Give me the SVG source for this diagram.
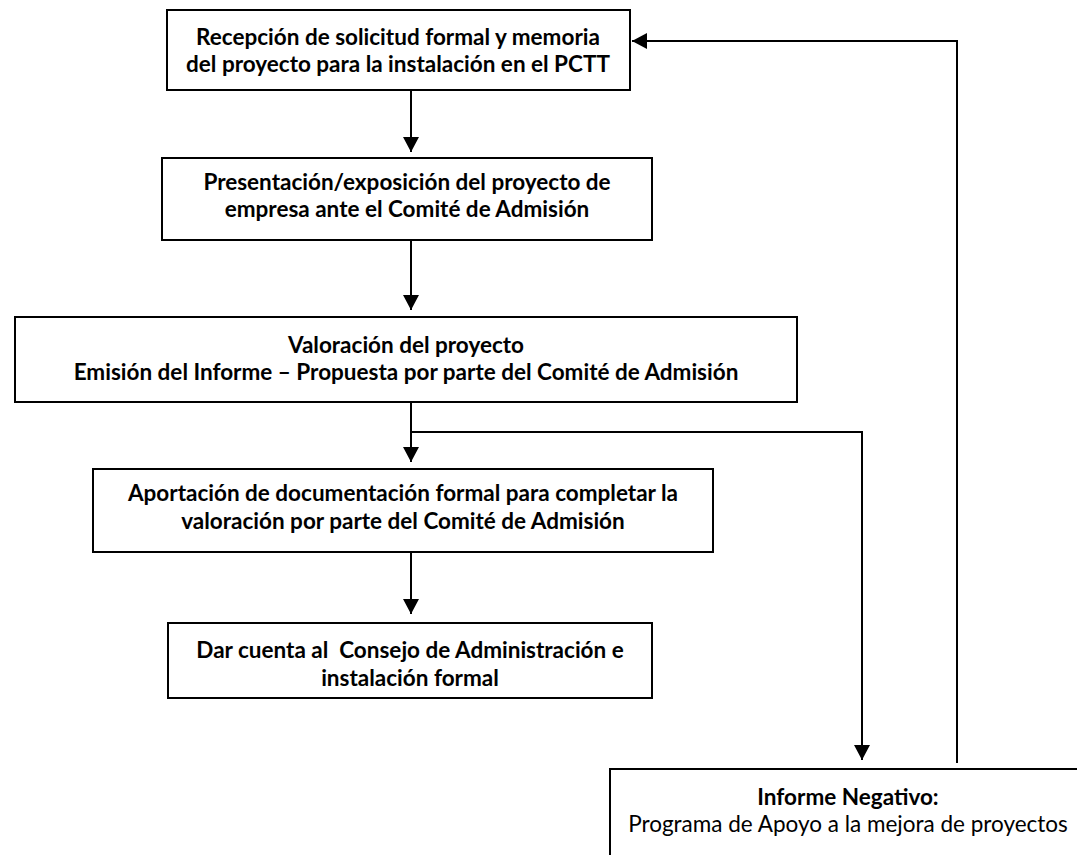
<svg xmlns="http://www.w3.org/2000/svg" width="1077" height="855" viewBox="0 0 1077 855">
<defs>
<style>
.box{fill:#fff;stroke:#000;stroke-width:2}
.t{font-family:Lato,"Liberation Sans",sans-serif;font-size:22.5px;fill:#000;text-anchor:middle;white-space:pre}
.b{font-weight:bold}
.c{fill:none;stroke:#000;stroke-width:2}
</style>
<marker id="ah" markerUnits="userSpaceOnUse" markerWidth="16" markerHeight="16" viewBox="0 0 16 16" refX="15" refY="8" orient="auto">
<path d="M0,0 L15,8 L0,16 Z" fill="#000"/>
</marker>
</defs>
<rect width="1077" height="855" fill="#fff"/>
<g id="connectors">
<line class="c" x1="411" y1="90" x2="411" y2="152" marker-end="url(#ah)"/>
<line class="c" x1="411" y1="240" x2="411" y2="310" marker-end="url(#ah)"/>
<line class="c" x1="411" y1="402" x2="411" y2="462" marker-end="url(#ah)"/>
<polyline class="c" points="411,432 862,432 862,760" marker-end="url(#ah)"/>
<line class="c" x1="411" y1="552" x2="411" y2="614" marker-end="url(#ah)"/>
<polyline class="c" points="957,763 957,41 632,41" marker-end="url(#ah)"/>
</g>
<g id="n1">
<rect class="box" x="167" y="10" width="463" height="80"/>
<text class="t b" x="398" y="45">Recepción de solicitud formal y memoria</text>
<text class="t b" x="398" y="72">del proyecto para la instalación en el PCTT</text>
</g>
<g id="n2">
<rect class="box" x="162" y="158" width="490" height="82"/>
<text class="t b" x="407" y="190">Presentación/exposición del proyecto de</text>
<text class="t b" x="407" y="217">empresa ante el Comité de Admisión</text>
</g>
<g id="n3">
<rect class="box" x="15" y="317" width="782" height="85"/>
<text class="t b" x="406" y="353">Valoración del proyecto</text>
<text class="t b" x="406" y="380">Emisión del Informe – Propuesta por parte del Comité de Admisión</text>
</g>
<g id="n4">
<rect class="box" x="93" y="469" width="620" height="83"/>
<text class="t b" x="403" y="501">Aportación de documentación formal para completar la</text>
<text class="t b" x="403" y="529">valoración por parte del Comité de Admisión</text>
</g>
<g id="n5">
<rect class="box" x="168" y="623" width="484" height="75"/>
<text class="t b" x="410" y="658">Dar cuenta al  Consejo de Administración e</text>
<text class="t b" x="410" y="686">instalación formal</text>
</g>
<g id="n6">
<rect class="box" x="610" y="769" width="476" height="100"/>
<text class="t b" x="848" y="805">Informe Negativo:</text>
<text class="t" x="848" y="832">Programa de Apoyo a la mejora de proyectos</text>
</g>
</svg>
